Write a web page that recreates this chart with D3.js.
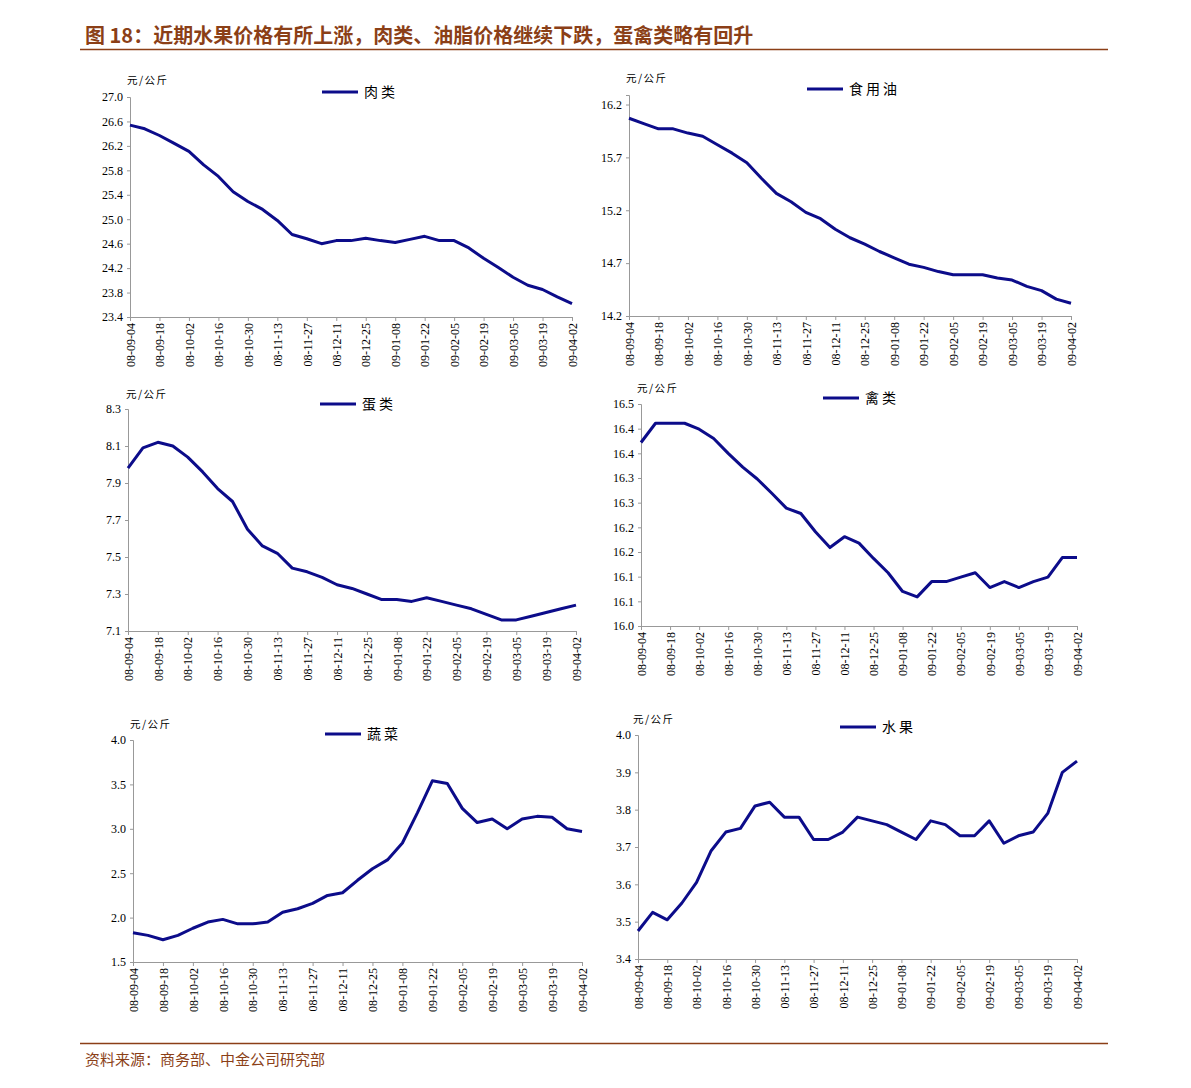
<!DOCTYPE html>
<html>
<head>
<meta charset="utf-8">
<script src="https://cdn.jsdelivr.net/npm/d3@7"></script>
<style>
  body { margin: 0; background: #fff; }
  svg { display: block; }
</style>
</head>
<body>
<div id="chart"></div>
<script>

// weekly dates, 08-09-04 .. 09-04-02
let dates = ['08-09-04', '08-09-11', '08-09-18', '08-09-25', '08-10-02', '08-10-09', '08-10-16', '08-10-23',
  '08-10-30', '08-11-06', '08-11-13', '08-11-20', '08-11-27', '08-12-04', '08-12-11', '08-12-18',
  '08-12-25', '09-01-01', '09-01-08', '09-01-15', '09-01-22', '09-01-29', '09-02-05', '09-02-12',
  '09-02-19', '09-02-26', '09-03-05', '09-03-12', '09-03-19', '09-03-26', '09-04-02'];

let meat = [26.54, 26.48, 26.37, 26.24, 26.11, 25.89, 25.70, 25.45, 25.29, 25.16, 24.98, 24.75, 24.68, 24.60,
  24.65, 24.65, 24.69, 24.65, 24.62, 24.67, 24.72, 24.65, 24.65, 24.53, 24.36, 24.21, 24.05, 23.92, 23.85, 23.73, 23.62];

let oil = [16.07, 16.02, 15.97, 15.97, 15.93, 15.90, 15.82, 15.74, 15.65, 15.50, 15.36, 15.28, 15.18, 15.12,
  15.02, 14.94, 14.88, 14.81, 14.75, 14.69, 14.66, 14.62, 14.59, 14.59, 14.59, 14.56, 14.54, 14.48, 14.44, 14.36, 14.32];

let egg = [7.98, 8.09, 8.12, 8.10, 8.04, 7.96, 7.87, 7.80, 7.65, 7.56, 7.52, 7.44, 7.42, 7.39, 7.35, 7.33,
  7.30, 7.27, 7.27, 7.26, 7.28, 7.26, 7.24, 7.22, 7.19, 7.16, 7.16, 7.18, 7.20, 7.22, 7.24];

let poultry = [16.372, 16.411, 16.411, 16.411, 16.399, 16.380, 16.350, 16.322, 16.298, 16.269, 16.239, 16.228,
  16.191, 16.159, 16.181, 16.168, 16.137, 16.108, 16.070, 16.059, 16.090, 16.090, 16.099, 16.108, 16.078,
  16.090, 16.078, 16.090, 16.099, 16.139, 16.139];

let veg = [1.83, 1.80, 1.75, 1.80, 1.88, 1.95, 1.98, 1.93, 1.93, 1.95, 2.06, 2.10, 2.16, 2.25, 2.28, 2.42,
  2.55, 2.65, 2.84, 3.18, 3.54, 3.51, 3.23, 3.07, 3.11, 3.00, 3.11, 3.14, 3.13, 3.00, 2.97];

let fruit = [3.475, 3.525, 3.505, 3.55, 3.605, 3.69, 3.74, 3.75, 3.81, 3.82, 3.78, 3.78, 3.72, 3.72, 3.74,
  3.78, 3.77, 3.76, 3.74, 3.72, 3.77, 3.76, 3.73, 3.73, 3.77, 3.71, 3.73, 3.74, 3.79, 3.90, 3.93];

// y tick values and their printed labels
let meatTicks = [23.4, 23.8, 24.2, 24.6, 25.0, 25.4, 25.8, 26.2, 26.6, 27.0];
let oilTicks = [14.2, 14.7, 15.2, 15.7, 16.2];
let eggTicks = [7.1, 7.3, 7.5, 7.7, 7.9, 8.1, 8.3];
let poultryTicks = [16.0, 16.05, 16.1, 16.15, 16.2, 16.25, 16.3, 16.35, 16.4, 16.45];
let poultryLabels = ['16.0', '16.1', '16.1', '16.2', '16.2', '16.3', '16.3', '16.4', '16.4', '16.5'];
let vegTicks = [1.5, 2.0, 2.5, 3.0, 3.5, 4.0];
let fruitTicks = [3.4, 3.5, 3.6, 3.7, 3.8, 3.9, 4.0];

let xLabels = dates.filter(function (d, i) { return i % 2 == 0; });

let brown = '#8b3f17';
let navy = '#0c0c8a';

var svg = d3.select('#chart').append('svg')
  .attr('width', 1191)
  .attr('height', 1088);

// title
svg.append('text')
  .attr('x', 85).attr('y', 43)
  .attr('fill', brown)
  .style('font-family', '"Noto Sans CJK SC"')
  .style('font-weight', 700)
  .style('font-size', '20px')
  .text('图 18：近期水果价格有所上涨，肉类、油脂价格继续下跌，蛋禽类略有回升');

svg.append('line')
  .attr('x1', 80).attr('x2', 1108).attr('y1', 49.5).attr('y2', 49.5)
  .attr('stroke', brown).attr('stroke-width', 1.3);

// footer
svg.append('line')
  .attr('x1', 80).attr('x2', 1108).attr('y1', 1043.5).attr('y2', 1043.5)
  .attr('stroke', brown).attr('stroke-width', 1.3);

svg.append('text')
  .attr('x', 85).attr('y', 1065)
  .attr('fill', brown)
  .style('font-family', '"Noto Sans CJK SC"')
  .style('font-size', '15px')
  .text('资料来源：商务部、中金公司研究部');

// panels: plot box and legend placement
var panels = [
  { name: '肉类', data: meat, ticks: meatTicks, dom: [23.4, 27.0], left: 130, right: 572, top: 97, bottom: 317, legX: 322, legY: 92, unitX: 127, unitY: 84 },
  { name: '食用油', data: oil, ticks: oilTicks, dom: [14.2, 16.29], left: 629, right: 1071, top: 95, bottom: 316, legX: 807, legY: 89, unitX: 626, unitY: 82 },
  { name: '蛋类', data: egg, ticks: eggTicks, dom: [7.1, 8.3], left: 128, right: 576, top: 409, bottom: 631, legX: 320, legY: 404, unitX: 126, unitY: 398 },
  { name: '禽类', data: poultry, ticks: poultryTicks, labels: poultryLabels, dom: [16.0, 16.45], left: 641, right: 1077, top: 404, bottom: 626, legX: 823, legY: 398, unitX: 637, unitY: 392 },
  { name: '蔬菜', data: veg, ticks: vegTicks, dom: [1.5, 4.0], left: 133, right: 582, top: 740, bottom: 962, legX: 325, legY: 734, unitX: 130, unitY: 728 },
  { name: '水果', data: fruit, ticks: fruitTicks, dom: [3.4, 4.0], left: 638, right: 1077, top: 735, bottom: 959, legX: 840, legY: 727, unitX: 633, unitY: 723 }
];

panels.forEach(function (p) {
  drawPanel(p);
});

function drawPanel(p) {
  var g = svg.append('g');

  var x = d3.scalePoint()
    .domain(dates)
    .range([p.left, p.right]);

  var y = d3.scaleLinear()
    .domain(p.dom)
    .range([p.bottom, p.top]);

  // y axis
  var yAxis = d3.axisLeft(y)
    .tickValues(p.ticks)
    .tickSize(3)
    .tickPadding(4)
    .tickFormat(function (d, i) { return p.labels ? p.labels[i] : d3.format('.1f')(d); });

  var ya = g.append('g')
    .attr('transform', 'translate(' + p.left + ',0)')
    .call(yAxis);

  // x axis
  var xAxis = d3.axisBottom(x)
    .tickValues(xLabels)
    .tickSize(4)
    .tickSizeOuter(0);

  var xa = g.append('g')
    .attr('transform', 'translate(0,' + p.bottom + ')')
    .call(xAxis);

  xa.selectAll('text')
    .attr('transform', 'rotate(-90)')
    .attr('x', -6)
    .attr('y', 0)
    .attr('dy', '0.35em')
    .style('text-anchor', 'end');

  [ya, xa].forEach(function (a) {
    a.select('.domain').attr('stroke', '#999');
    a.selectAll('.tick line').attr('stroke', '#999');
    a.selectAll('text')
      .attr('fill', '#000')
      .style('font-family', '"Liberation Serif", "Times New Roman", serif')
      .style('font-size', '12px');
  });

  // the series line
  var line = d3.line()
    .x(function (d, i) { return x(dates[i]); })
    .y(function (d) { return y(d); });

  g.append('path')
    .datum(p.data)
    .attr('fill', 'none')
    .attr('stroke', navy)
    .attr('stroke-width', 3)
    .attr('stroke-linejoin', 'round')
    .attr('d', line);

  // unit label
  g.append('text')
    .attr('x', p.unitX).attr('y', p.unitY)
    .style('font-family', '"Noto Sans CJK SC"')
    .style('font-size', '10.5px')
    .style('letter-spacing', '1.5px')
    .text('元/公斤');

  // legend
  g.append('line')
    .attr('x1', p.legX).attr('x2', p.legX + 36)
    .attr('y1', p.legY).attr('y2', p.legY)
    .attr('stroke', navy)
    .attr('stroke-width', 3);

  g.append('text')
    .attr('x', p.legX + 42).attr('y', p.legY)
    .attr('dy', '0.35em')
    .style('font-family', '"Noto Sans CJK SC"')
    .style('font-size', '14px')
    .style('letter-spacing', '3px')
    .text(p.name);
}
</script>
</body>
</html>
